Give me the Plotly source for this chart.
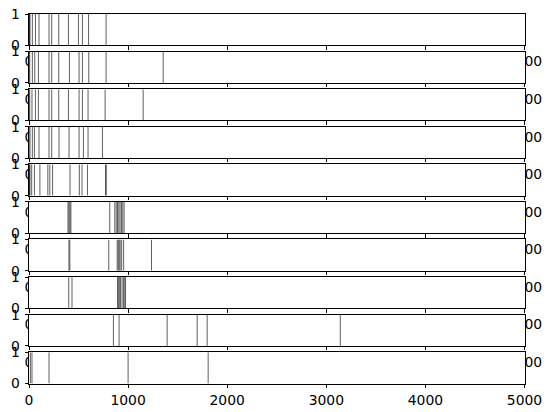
#!/usr/bin/env python3
"""Ten stacked event strips (vertical lines at event times)."""

import plotly.graph_objects as go

# event positions per strip, top to bottom
EVENTS_1 = [0, 5, 10, 34, 65, 101, 202, 229, 300, 398, 499, 539, 601, 778]
EVENTS_2 = [0, 7, 34, 58, 95, 202, 229, 300, 408, 505, 539, 603, 778, 1354]
EVENTS_3 = [0, 7, 30, 65, 95, 202, 229, 300, 398, 505, 539, 596, 768, 1152]
EVENTS_4 = [0, 10, 34, 55, 101, 202, 229, 303, 404, 505, 549, 596, 741]
EVENTS_5 = [0, 5, 10, 27, 55, 110, 190, 210, 238, 414, 508, 535, 590, 772, 780]
EVENTS_6 = [393, 403, 413, 423, 815, 866, 880, 893, 906, 919, 933, 946, 960]
EVENTS_7 = [403, 412, 805, 890, 900, 910, 920, 935, 955, 1236]
EVENTS_8 = [401, 434, 893, 906, 910, 923, 939, 956, 960, 974]
EVENTS_9 = [852, 909, 1394, 1697, 1798, 3141]
EVENTS_10 = [14, 30, 202, 1000, 1808]

ALL_EVENTS = [EVENTS_1, EVENTS_2, EVENTS_3, EVENTS_4, EVENTS_5,
              EVENTS_6, EVENTS_7, EVENTS_8, EVENTS_9, EVENTS_10]

X_TICKS = [0, 1000, 2000, 3000, 4000, 5000]
Y_TICKS = [0, 1]

FONT = {"family": "DejaVu Sans", "size": 13.9, "color": "black"}

WIDTH, HEIGHT = 549, 412
MARGIN = {"l": 29, "r": 24, "t": 14, "b": 28, "pad": 0}
PANEL_H = 31.32  # px, like matplotlib with hspace=0.2
GAP_H = 6.26

fig = go.Figure()

# full-size hidden subplot drawn first, so every strip's background is
# painted inside its own group and hides the tick labels of the strip above
fig.add_trace(go.Scatter(x=[None], y=[None], xaxis="x", yaxis="y",
                         showlegend=False, hoverinfo="skip"))
layout = {
    "xaxis": {"domain": [0, 1], "visible": False, "range": [0, 1], "automargin": False},
    "yaxis": {"domain": [0, 1], "visible": False, "range": [0, 1], "automargin": False},
}

axis_style = {
    "showgrid": False,
    "zeroline": False,
    "showline": True,
    "mirror": True,
    "linecolor": "black",
    "linewidth": 0.8,
    "ticks": "outside",
    "ticklen": 3.5,
    "tickwidth": 0.8,
    "tickcolor": "black",
    "tickfont": FONT,
    "automargin": False,
    "fixedrange": True,
}

plot_h = HEIGHT - MARGIN["t"] - MARGIN["b"]
for i, events in enumerate(ALL_EVENTS):
    k = i + 2
    top = 1 - i * (PANEL_H + GAP_H) / plot_h
    bottom = max(top - PANEL_H / plot_h, 0)
    xs, ys = [], []
    for v in events:
        xs += [v, v, None]
        ys += [0, 1, None]
    fig.add_trace(
        go.Scatter(
            x=xs,
            y=ys,
            xaxis=f"x{k}",
            yaxis=f"y{k}",
            mode="lines",
            line={"color": "rgba(0,0,0,0.62)", "width": 1},
            showlegend=False,
            hoverinfo="skip",
        )
    )
    layout[f"xaxis{k}"] = {
        **axis_style,
        "domain": [0, 1],
        "anchor": f"y{k}",
        "range": [0, 5005],
        "tickvals": X_TICKS,
        "ticktext": [str(t) for t in X_TICKS],
    }
    layout[f"yaxis{k}"] = {
        **axis_style,
        "domain": [bottom, top],
        "anchor": f"x{k}",
        "range": [0, 1],
        "tickvals": Y_TICKS,
        "ticktext": [str(t) for t in Y_TICKS],
        "ticklabelstandoff": 2,
    }

fig.update_layout(
    **layout,
    template="none",
    width=WIDTH,
    height=HEIGHT,
    margin=MARGIN,
    paper_bgcolor="#ffffff",
    plot_bgcolor="#fefefe",
    font=FONT,
    showlegend=False,
)

# drop the browser's default page margin so the figure sits at the top-left
fig.write_html(
    "out.html",
    config={"displayModeBar": False},
    post_script="document.body.style.margin = '0px';",
)
